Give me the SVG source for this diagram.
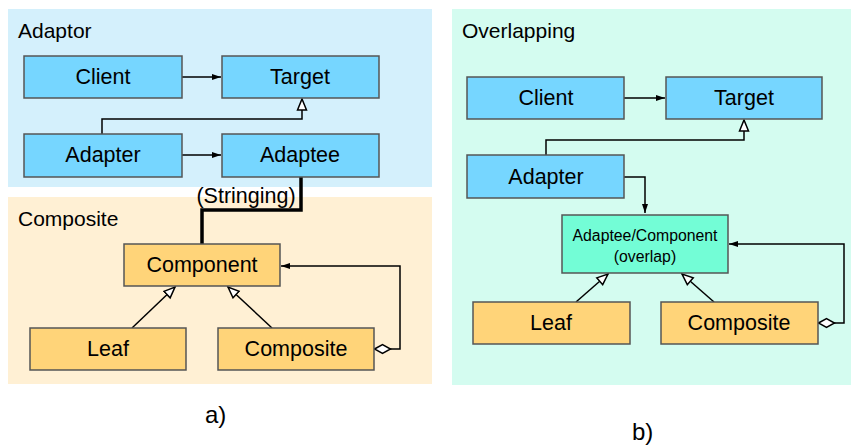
<svg xmlns="http://www.w3.org/2000/svg" width="851" height="446" viewBox="0 0 851 446">
  <style>
    text { font-family: "Liberation Sans", Arial, sans-serif; fill: #000; }
    .title { font-size: 21px; }
    .lbl { font-size: 21.5px; text-anchor: middle; }
    .small { font-size: 15.8px; text-anchor: middle; }
    .cap { font-size: 24px; }
    .box { stroke: #555; stroke-width: 1.5; }
    .blue { fill: #76D6FF; }
    .orange { fill: #FFD479; }
    .aqua { fill: #73FDD6; }
    .conn { fill: none; stroke: #000; stroke-width: 1.5; }
    .thick { fill: none; stroke: #000; stroke-width: 3.5; }
  </style>
  <defs>
    <marker id="arrow" markerUnits="userSpaceOnUse" markerWidth="10" markerHeight="8" refX="9" refY="4" orient="auto">
      <path d="M0,1 L9,4 L0,7 Z" fill="#000"/>
    </marker>
    <marker id="inherit" markerUnits="userSpaceOnUse" markerWidth="14" markerHeight="12" refX="12" refY="6" orient="auto">
      <path d="M1,1.5 L12,6 L1,10.5 Z" fill="#fff" stroke="#000" stroke-width="1.5"/>
    </marker>
    <marker id="diamond" markerUnits="userSpaceOnUse" markerWidth="20" markerHeight="12" refX="1" refY="6" orient="auto">
      <path d="M1,6 L9,1.5 L17,6 L9,10.5 Z" fill="#fff" stroke="#000" stroke-width="1.5"/>
    </marker>
  </defs>

  <!-- panels -->
  <rect x="8" y="9" width="424" height="178" fill="#D4F0FC"/>
  <rect x="8" y="197" width="424" height="187" fill="#FFF0D4"/>
  <rect x="452" y="9" width="399" height="376" fill="#D4FCF0"/>
  <text class="title" x="18" y="38">Adaptor</text>
  <text class="title" x="18" y="226">Composite</text>
  <text class="title" x="462" y="38">Overlapping</text>

  <!-- connectors -->
  <g id="connectors">
    <!-- a) adaptor -->
    <path class="conn" d="M182,77 H221" marker-end="url(#arrow)"/>
    <path class="conn" d="M182,155 H221" marker-end="url(#arrow)"/>
    <path class="conn" d="M102,134 V119 H302 V99" marker-end="url(#inherit)"/>
    <!-- a) stringing -->
    <path class="thick" d="M301,177 V210 H202 V244"/>
    <!-- a) composite -->
    <path class="conn" d="M132,328 L175,287" marker-end="url(#inherit)"/>
    <path class="conn" d="M272,328 L228,287" marker-end="url(#inherit)"/>
    <path class="conn" d="M374.5,349 L390,349 H400 V266 H281" marker-end="url(#arrow)"/>
    <path class="conn" d="M374.5,349 H376" marker-start="url(#diamond)"/>
    <!-- b) overlapping -->
    <path class="conn" d="M624,98 H665" marker-end="url(#arrow)"/>
    <path class="conn" d="M546,155 V140 H744 V120" marker-end="url(#inherit)"/>
    <path class="conn" d="M624,177 H645 V213" marker-end="url(#arrow)"/>
    <path class="conn" d="M576,302 L608,274" marker-end="url(#inherit)"/>
    <path class="conn" d="M714,302 L682,274" marker-end="url(#inherit)"/>
    <path class="conn" d="M834,323 H844 V244 H729" marker-end="url(#arrow)"/>
    <path class="conn" d="M818.5,323 H820" marker-start="url(#diamond)"/>
  </g>

  <text class="lbl" x="246" y="203">(Stringing)</text>

  <!-- a) nodes -->
  <g id="a-client"><rect class="box blue" x="24" y="56" width="158" height="42"/><text class="lbl" x="103" y="84">Client</text></g>
  <g id="a-target"><rect class="box blue" x="222" y="56" width="157" height="42"/><text class="lbl" x="300" y="84">Target</text></g>
  <g id="a-adapter"><rect class="box blue" x="24" y="134" width="158" height="43"/><text class="lbl" x="103" y="162">Adapter</text></g>
  <g id="a-adaptee"><rect class="box blue" x="222" y="134" width="157" height="43"/><text class="lbl" x="300" y="162">Adaptee</text></g>
  <g id="a-component"><rect class="box orange" x="124" y="244" width="156" height="42"/><text class="lbl" x="202" y="272">Component</text></g>
  <g id="a-leaf"><rect class="box orange" x="30" y="328" width="156" height="42"/><text class="lbl" x="108" y="356">Leaf</text></g>
  <g id="a-composite"><rect class="box orange" x="218" y="328" width="156" height="42"/><text class="lbl" x="296" y="356">Composite</text></g>

  <!-- b) nodes -->
  <g id="b-client"><rect class="box blue" x="467" y="77" width="157" height="42"/><text class="lbl" x="546" y="105">Client</text></g>
  <g id="b-target"><rect class="box blue" x="666" y="77" width="156" height="42"/><text class="lbl" x="744" y="105">Target</text></g>
  <g id="b-adapter"><rect class="box blue" x="467" y="155" width="157" height="43"/><text class="lbl" x="546" y="184">Adapter</text></g>
  <g id="b-overlap"><rect class="box aqua" x="562" y="215" width="166" height="58"/><text class="small" x="645" y="241">Adaptee/Component</text><text class="small" x="645" y="262">(overlap)</text></g>
  <g id="b-leaf"><rect class="box orange" x="473" y="302" width="157" height="42"/><text class="lbl" x="551" y="330">Leaf</text></g>
  <g id="b-composite"><rect class="box orange" x="661" y="302" width="157" height="42"/><text class="lbl" x="739" y="330">Composite</text></g>

  <text class="cap" x="205" y="423">a)</text>
  <text class="cap" x="632" y="440">b)</text>
</svg>
